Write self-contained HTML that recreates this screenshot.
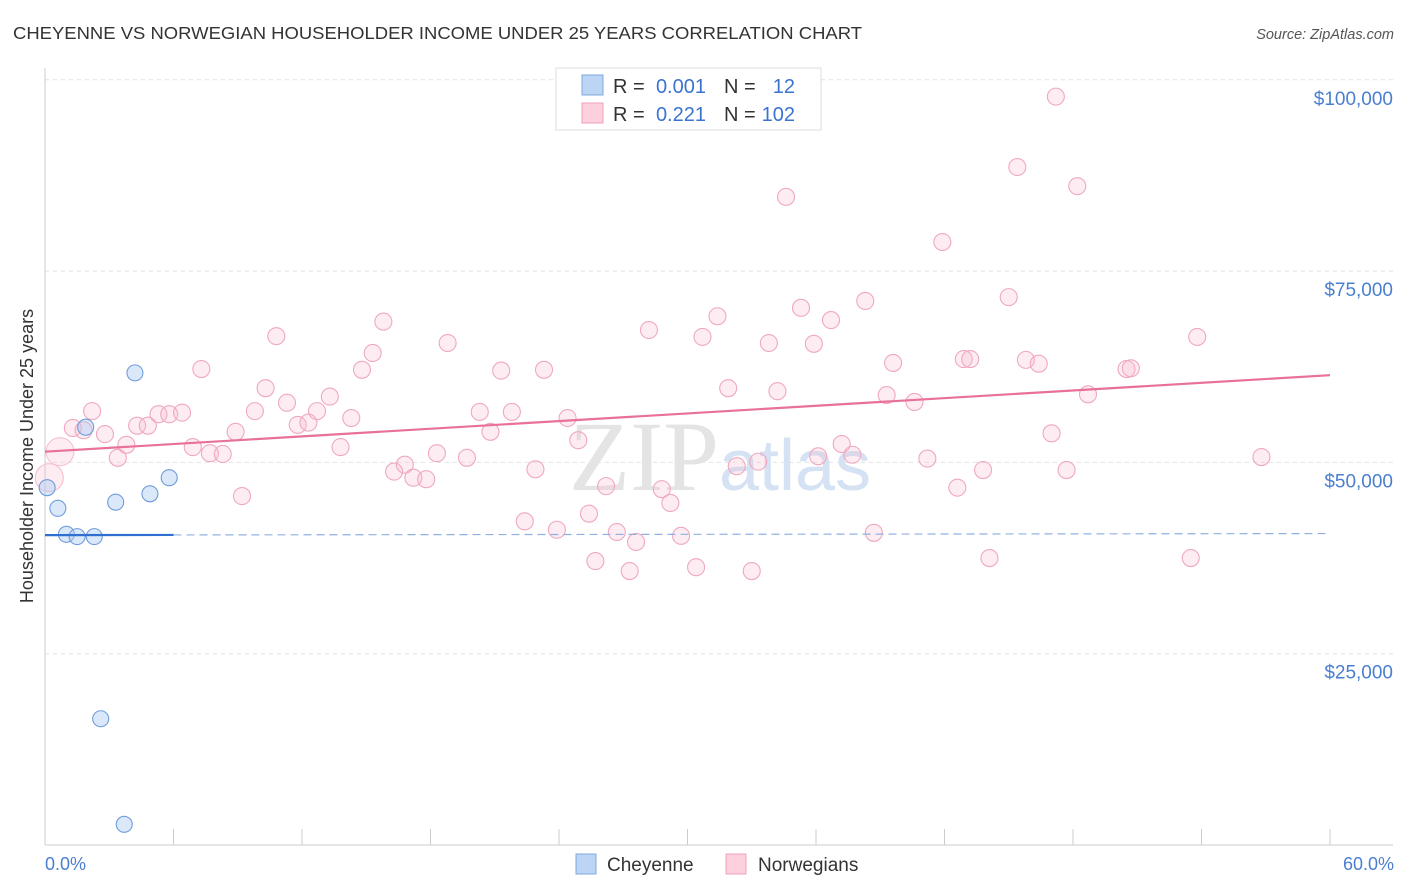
<!DOCTYPE html>
<html><head><meta charset="utf-8"><style>
body{margin:0;background:#fff;font-family:"Liberation Sans",sans-serif}
svg{display:block}
</style></head><body>
<svg width="1406" height="892" viewBox="0 0 1406 892" xmlns="http://www.w3.org/2000/svg" font-family="Liberation Sans, sans-serif">
<text x="13" y="39" font-size="17.5" fill="#333" textLength="849" lengthAdjust="spacingAndGlyphs">CHEYENNE VS NORWEGIAN HOUSEHOLDER INCOME UNDER 25 YEARS CORRELATION CHART</text>
<text x="1394" y="39" font-size="14.5" fill="#555" text-anchor="end" font-style="italic">Source: ZipAtlas.com</text>
<g id="grid"></g>
<text x="720" y="490" font-size="100" text-anchor="middle" fill="#e4e4e4" font-family="Liberation Serif, serif">ZIP<tspan fill="#d4e2f4" font-family="Liberation Sans, sans-serif" font-size="72">atlas</tspan></text>
<g id="marks"></g>
<text transform="translate(33,456) rotate(-90)" font-size="18" fill="#333" text-anchor="middle">Householder Income Under 25 years</text>
<text x="45" y="870" font-size="18" fill="#4a7fd0">0.0%</text>
<text x="1394" y="870" font-size="18" fill="#4a7fd0" text-anchor="end">60.0%</text>
<g font-size="20">
<rect x="556" y="68" width="265" height="62" fill="#fff" stroke="#ddd"/>
<rect x="582" y="75" width="21" height="20" fill="#bcd5f5" stroke="#7fa8de"/>
<rect x="582" y="103" width="21" height="20" fill="#fcd0dc" stroke="#f0a0b8"/>
<text x="613" y="93" fill="#333">R =</text>
<text x="706" y="93" fill="#3a74d0" text-anchor="end">0.001</text>
<text x="724" y="93" fill="#333">N =</text>
<text x="795" y="93" fill="#3a74d0" text-anchor="end">12</text>
<text x="613" y="121" fill="#333">R =</text>
<text x="706" y="121" fill="#3a74d0" text-anchor="end">0.221</text>
<text x="724" y="121" fill="#333">N =</text>
<text x="795" y="121" fill="#3a74d0" text-anchor="end">102</text>
</g>
<g>
<rect x="576" y="854" width="20" height="20" fill="#bcd5f5" stroke="#7fa8de"/>
<text x="607" y="871" font-size="19" fill="#333">Cheyenne</text>
<rect x="726" y="854" width="20" height="20" fill="#fcd0dc" stroke="#f0a0b8"/>
<text x="758" y="871" font-size="19" fill="#333">Norwegians</text>
</g>
</svg>
<script>
const yTicks=[25000,50000,75000,100000];
const yTickLabels=["$25,000","$50,000","$75,000","$100,000"];
const xTicks=[0,6,12,18,24,30,36,42,48,54,60];
const cheX=[0.1,0.6,1.0,1.5,2.3,1.9,3.3,4.2,4.9,5.8,2.6,3.7];
const cheY=[46700,44000,40600,40300,40300,54600,44800,61700,45900,48000,16500,2700];
const norX=[0.7,0.2,1.3,2.2,1.8,2.8,3.4,3.8,4.3,4.8,5.3,5.8,6.4,6.9,7.3,7.7,8.3,8.9,9.2,9.8,10.3,10.8,11.3,11.8,12.3,12.7,13.3,13.8,14.3,14.8,15.3,15.8,16.3,16.8,17.2,17.8,18.3,18.8,19.7,20.3,20.8,21.3,21.8,22.4,22.9,23.3,23.9,24.4,24.9,25.4,25.7,26.2,26.7,27.3,27.6,28.2,28.8,29.2,29.7,30.4,30.7,31.4,31.9,32.3,33.0,33.3,33.8,34.2,34.6,35.3,35.9,36.1,36.7,37.2,37.7,38.3,38.7,39.3,39.6,40.6,41.2,41.9,42.6,42.9,43.2,43.8,44.1,45.0,45.4,45.8,46.4,47.0,47.2,47.7,48.2,48.7,50.5,50.7,53.5,53.8,56.8];
const norY=[51400,48000,54500,56700,54200,53700,50600,52300,54800,54800,56300,56300,56500,52000,62200,51200,51100,54000,45600,56700,59700,66500,57800,54900,55200,56700,58600,52000,55800,62100,64300,68400,48800,49700,48000,47800,51200,65600,50600,56600,54000,62000,56600,42300,49100,62100,41200,55800,52900,43300,37100,46900,40900,35800,39600,67300,46500,44700,40400,36300,66400,69100,59700,49500,35800,50100,65600,59300,84700,70200,65500,50800,68600,52400,51000,71100,40800,58800,63000,57900,50500,78800,46700,63500,63500,49000,37500,71600,88600,63400,62900,53800,97800,49000,86100,58900,62200,62300,37500,66400,50700];
const cheTrend=[40500,40700];
const norTrend=[51400,61400];
const NS="http://www.w3.org/2000/svg";
const X=v=>45+v/60*1285;
const Y=v=>845-v/25000*191.3;
function mk(t,a,p){const e=document.createElementNS(NS,t);for(const k in a)e.setAttribute(k,a[k]);p.appendChild(e);return e;}
const grid=document.getElementById('grid'),marks=document.getElementById('marks');
yTicks.forEach((t,i)=>{
 const l=mk('line',{x1:45,x2:1393,y1:Y(t),y2:Y(t),stroke:'#e2e2e2','stroke-dasharray':'4,4'},grid);
 
 
 const tx=mk('text',{x:1393,y:Y(t)+25,'font-size':19,fill:'#4a7fd0','text-anchor':'end'},grid);
 tx.textContent=yTickLabels[i];
 
 
});
const ya=mk('line',{x1:45,x2:45,y1:68,y2:845,stroke:'#ccc'},grid);


const xa=mk('line',{x1:45,x2:1393,y1:845,y2:845,stroke:'#ccc'},grid);


xTicks.forEach(t=>{const l=mk('line',{x1:X(t),x2:X(t),y1:829,y2:845,stroke:'#ccc'},grid);
 
 });
norX.forEach((x,i)=>{
 const r=(i<2)?14:8.5;
 const c=mk('circle',{cx:X(x),cy:Y(norY[i]),r:r,fill:'rgba(248,182,202,0.25)',stroke:(i<2)?'#f5c0d0':'#f0a8be','stroke-width':1.1},marks);
 
 
});
cheX.forEach((x,i)=>{
 const c=mk('circle',{cx:X(x),cy:Y(cheY[i]),r:8,fill:'rgba(176,204,242,0.45)',stroke:'#6f9ddb','stroke-width':1.1},marks);
 
 
});
const nl=mk('line',{x1:X(0),x2:X(60),y1:Y(norTrend[0]),y2:Y(norTrend[1]),stroke:'#e8709a','stroke-width':2.2},marks);


const cs=(cheTrend[1]-cheTrend[0])/60;
const cl=mk('line',{x1:X(0),x2:X(6),y1:Y(cheTrend[0]),y2:Y(cheTrend[0]+cs*6),stroke:'#2f6fd0','stroke-width':2.2},marks);


const cd=mk('line',{x1:X(6),x2:X(60),y1:Y(cheTrend[0]+cs*6),y2:Y(cheTrend[1]),stroke:'#8fb0e0','stroke-width':1.2,'stroke-dasharray':'8,5'},marks);


</script>
</body></html>
